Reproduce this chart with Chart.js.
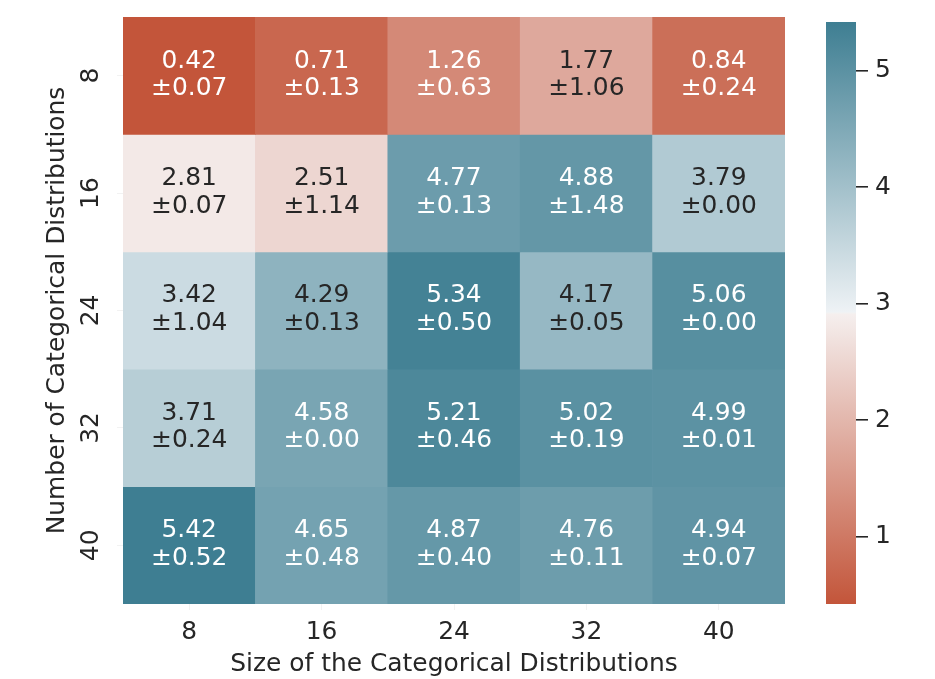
<!DOCTYPE html>
<html>
<head>
<meta charset="utf-8">
<script src="https://cdn.jsdelivr.net/npm/chart.js@4.4.1/dist/chart.umd.min.js"></script>
<style>
  body { margin: 0; background: #fff; }
  #wrap { position: relative; width: 935px; height: 679px; }
  #heat { position: absolute; left: 0; top: 0; }
  #cbar { position: absolute; left: 826px; top: 0; }
</style>
</head>
<body>
<div id="wrap">
  <canvas id="heat" width="935" height="679"></canvas>
  <canvas id="cbar" width="109" height="679"></canvas>
</div>
<script>
// data
const colLabels = ["8", "16", "24", "32", "40"];
const rowLabels = ["8", "16", "24", "32", "40"];
const meanVals = [
  [0.42, 0.71, 1.26, 1.77, 0.84],
  [2.81, 2.51, 4.77, 4.88, 3.79],
  [3.42, 4.29, 5.34, 4.17, 5.06],
  [3.71, 4.58, 5.21, 5.02, 4.99],
  [5.42, 4.65, 4.87, 4.76, 4.94]
];
const stdVals = [
  [0.07, 0.13, 0.63, 1.06, 0.24],
  [0.07, 1.14, 0.13, 1.48, 0.00],
  [1.04, 0.13, 0.50, 0.05, 0.00],
  [0.24, 0.00, 0.46, 0.19, 0.01],
  [0.52, 0.48, 0.40, 0.11, 0.07]
];
const cbarTicks = [1, 2, 3, 4, 5];
const xTitle = "Size of the Categorical Distributions";
const yTitle = "Number of Categorical Distributions";

const vmin = 0.42, vmax = 5.42;
const FONT = '"DejaVu Sans", sans-serif';
const FS = 24.9;
const DARK = "#262626";

// diverging palette (red -> light gray -> teal), linear blends like seaborn
const stops = [
  [0.0, [195, 85, 58]],
  [0.498, [245, 239, 238]],
  [0.5, [242, 242, 242]],
  [0.502, [238, 242, 245]],
  [1.0, [62, 126, 146]]
];

function cmap(v) {
  let t = (v - vmin) / (vmax - vmin);
  t = Math.max(0, Math.min(1, t));
  for (let i = 1; i < stops.length; i++) {
    if (t <= stops[i][0]) {
      const [t0, c0] = stops[i - 1];
      const [t1, c1] = stops[i];
      const f = (t - t0) / (t1 - t0);
      return c0.map((c, k) => Math.round(c + f * (c1[k] - c)));
    }
  }
  return stops[stops.length - 1][1];
}
const rgb = (c) => `rgb(${c[0]},${c[1]},${c[2]})`;

function luminance(c) {
  const lin = c.map((x) => {
    x = x / 255;
    return x <= 0.03928 ? x / 12.92 : Math.pow((x + 0.055) / 1.055, 2.4);
  });
  return 0.2126 * lin[0] + 0.7152 * lin[1] + 0.0722 * lin[2];
}

const datasets = rowLabels.map((r, i) => ({
  label: r,
  data: colLabels.map(() => 1),
  backgroundColor: meanVals[i].map((v) => rgb(cmap(v))),
  borderWidth: 0,
  barPercentage: 1,
  categoryPercentage: 1
}));

const annotate = {
  id: "annotate",
  afterDatasetsDraw(chart) {
    const ctx = chart.ctx;
    ctx.save();
    ctx.font = `${FS}px ${FONT}`;
    ctx.textAlign = "center";
    ctx.textBaseline = "middle";
    datasets.forEach((ds, i) => {
      const meta = chart.getDatasetMeta(i);
      meta.data.forEach((bar, j) => {
        const cy = (bar.y + bar.base) / 2;
        const c = cmap(meanVals[i][j]);
        ctx.fillStyle = luminance(c) > 0.408 ? DARK : "#ffffff";
        ctx.fillText(meanVals[i][j].toFixed(2), bar.x, cy - 14.6);
        ctx.fillText("\u00b1" + stdVals[i][j].toFixed(2), bar.x, cy + 13);
      });
    });
    ctx.restore();
  }
};

const rowTicks = {
  id: "rowTicks",
  afterDraw(chart) {
    const ctx = chart.ctx;
    const ys = chart.scales.y;
    ctx.save();
    ctx.font = `${FS}px ${FONT}`;
    ctx.fillStyle = DARK;
    ctx.textAlign = "center";
    ctx.textBaseline = "middle";
    rowLabels.forEach((lab, i) => {
      const y = ys.getPixelForValue(i + 0.5);
      ctx.save();
      ctx.translate(92, y);
      ctx.rotate(-Math.PI / 2);
      ctx.fillText(lab, 0, 0);
      ctx.restore();
    });
    ctx.restore();
  }
};

new Chart(document.getElementById("heat"), {
  type: "bar",
  data: { labels: colLabels, datasets: datasets },
  options: {
    responsive: false,
    animation: false,
    layout: { padding: { top: 17, right: 150, bottom: 0, left: 0 } },
    plugins: { legend: { display: false }, tooltip: { enabled: false } },
    scales: {
      x: {
        stacked: true,
        z: 1,
        border: { display: false },
        grid: { offset: false, color: "rgba(255,255,255,0.12)", tickLength: 6, tickColor: "rgba(0,0,0,0.05)" },
        ticks: { color: DARK, font: { family: FONT, size: FS }, padding: 8, maxRotation: 0 },
        title: { display: true, text: xTitle, color: DARK, font: { family: FONT, size: FS }, padding: { top: 0, bottom: 0 } },
        afterFit: (s) => { s.height = 75; }
      },
      y: {
        stacked: true,
        reverse: true,
        min: 0,
        max: 5,
        z: 1,
        border: { display: false },
        afterBuildTicks: (s) => { s.ticks = rowLabels.map((_, i) => ({ value: i + 0.5 })); },
        grid: { color: "rgba(255,255,255,0.12)", tickLength: 6, tickColor: "rgba(0,0,0,0.05)" },
        ticks: { display: false },
        title: { display: true, text: yTitle, color: DARK, font: { family: FONT, size: FS }, padding: { top: 43, bottom: 0 } },
        afterFit: (s) => { s.width = 123; }
      }
    }
  },
  plugins: [annotate, rowTicks]
});

// colour bar
function cbarFill(context) {
  const chart = context.chart;
  const area = chart.chartArea;
  if (!area) return null;
  const ys = chart.scales.y;
  const g = chart.ctx.createLinearGradient(0, ys.getPixelForValue(vmin), 0, ys.getPixelForValue(vmax));
  stops.forEach(([t, c]) => g.addColorStop(t, rgb(c)));
  return g;
}

new Chart(document.getElementById("cbar"), {
  type: "bar",
  data: {
    labels: ["cb"],
    datasets: [{ data: [[vmin, vmax]], backgroundColor: cbarFill, borderWidth: 0, barPercentage: 1, categoryPercentage: 1 }]
  },
  options: {
    responsive: false,
    animation: false,
    layout: { padding: { top: 17, bottom: 75, left: 0, right: 0 } },
    plugins: { legend: { display: false }, tooltip: { enabled: false } },
    scales: {
      x: { display: false },
      y: {
        position: "right",
        min: vmin,
        max: vmax,
        afterBuildTicks: (s) => { s.ticks = cbarTicks.map((v) => ({ value: v })); },
        border: { display: false },
        grid: { drawOnChartArea: false, tickLength: 12, tickColor: DARK, lineWidth: 1.6 },
        ticks: { color: DARK, font: { family: FONT, size: FS }, padding: 7 },
        afterFit: (s) => { s.width = 79; }
      }
    }
  }
});
</script>
</body>
</html>
